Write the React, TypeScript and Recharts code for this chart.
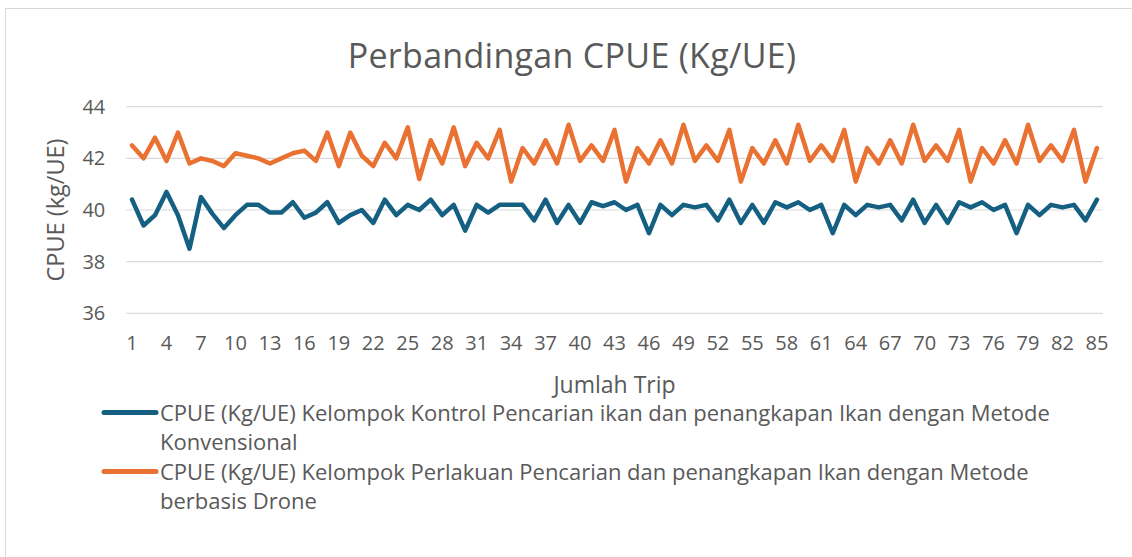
import React from 'react';
import { LineChart, Line, XAxis, YAxis, CartesianGrid } from 'recharts';

const trips = [
  1, 2, 3, 4, 5, 6, 7, 8, 9, 10, 11, 12, 13, 14, 15, 16, 17, 18, 19, 20,
  21, 22, 23, 24, 25, 26, 27, 28, 29, 30, 31, 32, 33, 34, 35, 36, 37, 38, 39, 40,
  41, 42, 43, 44, 45, 46, 47, 48, 49, 50, 51, 52, 53, 54, 55, 56, 57, 58, 59, 60,
  61, 62, 63, 64, 65, 66, 67, 68, 69, 70, 71, 72, 73, 74, 75, 76, 77, 78, 79, 80,
  81, 82, 83, 84, 85,
];

const kontrol = [
  40.4, 39.4, 39.8, 40.7, 39.8, 38.5, 40.5, 39.85, 39.3, 39.8,
  40.2, 40.2, 39.9, 39.9, 40.3, 39.7, 39.9, 40.3, 39.5, 39.8,
  40.0, 39.5, 40.4, 39.8, 40.2, 40.0, 40.4, 39.8, 40.2, 39.2,
  40.2, 39.9, 40.2, 40.2, 40.2, 39.6, 40.4, 39.5, 40.2, 39.5,
  40.3, 40.15, 40.3, 40.0, 40.2, 39.1, 40.2, 39.8, 40.2, 40.1,
  40.2, 39.6, 40.4, 39.5, 40.2, 39.5, 40.3, 40.1, 40.3, 40.0,
  40.2, 39.1, 40.2, 39.8, 40.2, 40.1, 40.2, 39.6, 40.4, 39.5,
  40.2, 39.5, 40.3, 40.1, 40.3, 40.0, 40.2, 39.1, 40.2, 39.8,
  40.2, 40.1, 40.2, 39.6, 40.4,
];

const drone = [
  42.5, 42.0, 42.8, 41.9, 43.0, 41.8, 42.0, 41.9, 41.7, 42.2,
  42.1, 42.0, 41.8, 42.0, 42.2, 42.3, 41.9, 43.0, 41.7, 43.0,
  42.1, 41.7, 42.6, 42.0, 43.2, 41.2, 42.7, 41.8, 43.2, 41.7,
  42.6, 42.0, 43.1, 41.1, 42.4, 41.8, 42.7, 41.8, 43.3, 41.9,
  42.5, 41.9, 43.1, 41.1, 42.4, 41.8, 42.7, 41.8, 43.3, 41.9,
  42.5, 41.9, 43.1, 41.1, 42.4, 41.8, 42.7, 41.8, 43.3, 41.9,
  42.5, 41.9, 43.1, 41.1, 42.4, 41.8, 42.7, 41.8, 43.3, 41.9,
  42.5, 41.9, 43.1, 41.1, 42.4, 41.8, 42.7, 41.8, 43.3, 41.9,
  42.5, 41.9, 43.1, 41.1, 42.4,
];

const xTicks = [1, 4, 7, 10, 13, 16, 19, 22, 25, 28, 31, 34, 37, 40, 43, 46, 49, 52, 55, 58, 61, 64, 67, 70, 73, 76, 79, 82, 85];
const yTicks = [36, 38, 40, 42, 44];

const title = 'Perbandingan CPUE (Kg/UE)';
const xTitle = 'Jumlah Trip';
const yTitle = 'CPUE (kg/UE)';

const series = [
  { key: 'kontrol', name: 'CPUE (Kg/UE) Kelompok Kontrol Pencarian ikan dan penangkapan Ikan dengan Metode Konvensional', color: '#156082' },
  { key: 'drone', name: 'CPUE (Kg/UE) Kelompok Perlakuan Pencarian dan penangkapan Ikan dengan Metode berbasis Drone', color: '#E97132' },
];

const data = trips.map((t, i) => ({ trip: t, kontrol: kontrol[i], drone: drone[i] }));

const FONT = '"Open Sans", "Liberation Sans", sans-serif';
const TEXT = '#595959';

export default function App() {
  return (
    <div style={{ position: 'absolute', left: 0, top: 0, width: 1132, height: 557, background: '#fff', overflow: 'hidden', fontFamily: FONT }}>
      <div style={{ position: 'absolute', left: 5, top: 8, width: 1200, height: 700, border: '1.5px solid #d9d9d9', boxSizing: 'border-box' }} />
      <div style={{ position: 'absolute', left: 0, width: 1144, top: 33, textAlign: 'center', fontSize: 34, letterSpacing: 0.3, color: TEXT, lineHeight: '44px' }}>{title}</div>
      <LineChart
        width={1132}
        height={557}
        data={data}
        margin={{ top: 106.7, right: 29.3, left: 26.3, bottom: 100.7 }}
        style={{ position: 'absolute', left: 0, top: 0 }}
      >
        <CartesianGrid vertical={false} stroke="#d9d9d9" strokeWidth={1.2} />
        <XAxis
          dataKey="trip"
          type="number"
          domain={[1, 85]}
          ticks={xTicks}
          interval={0}
          padding={{ left: 5.75, right: 5.75 }}
          axisLine={false}
          tickLine={false}
          tickSize={0}
          tickMargin={22.5}
          height={143}
          tick={{ fill: TEXT, fontSize: 20, fontFamily: FONT }}
          label={{ value: xTitle, position: 'center', fill: TEXT, fontSize: 23, fontFamily: FONT }}
        />
        <YAxis
          type="number"
          domain={[36, 44]}
          ticks={yTicks}
          interval={0}
          width={100}
          axisLine={false}
          tickLine={false}
          tickSize={0}
          tickMargin={21}
          tick={{ fill: TEXT, fontSize: 20, fontFamily: FONT }}
          label={{
            value: yTitle,
            content: (props: any) => {
              const vb = props.viewBox || { x: 26.3, y: 106.7, width: 100, height: 206.6 };
              const cx = vb.x + 28.7;
              const cy = vb.y + vb.height / 2;
              return (
                <text
                  x={cx}
                  y={cy}
                  transform={`rotate(-90, ${cx}, ${cy})`}
                  textAnchor="middle"
                  dominantBaseline="central"
                  fill={TEXT}
                  fontSize={23.5}
                  fontFamily={FONT}
                >
                  {yTitle}
                </text>
              );
            },
          }}
        />
        {series.map((s) => (
          <Line
            key={s.key}
            type="linear"
            dataKey={s.key}
            name={s.name}
            stroke={s.color}
            strokeWidth={4.5}
            strokeLinejoin="round"
            strokeLinecap="round"
            dot={false}
            activeDot={false}
            isAnimationActive={false}
          />
        ))}
      </LineChart>
      <div style={{ position: 'absolute', left: 100, top: 398 }}>
        {series.map((s) => (
          <div key={s.key} style={{ display: 'flex', alignItems: 'flex-start', marginBottom: 1 }}>
            <svg width={60} height={29} style={{ flex: '0 0 auto' }}>
              <line x1={4} y1={14.5} x2={56} y2={14.5} stroke={s.color} strokeWidth={5} strokeLinecap="round" />
            </svg>
            <div style={{ width: 905, fontSize: 22, lineHeight: '29px', color: TEXT }}>{s.name}</div>
          </div>
        ))}
      </div>
    </div>
  );
}
